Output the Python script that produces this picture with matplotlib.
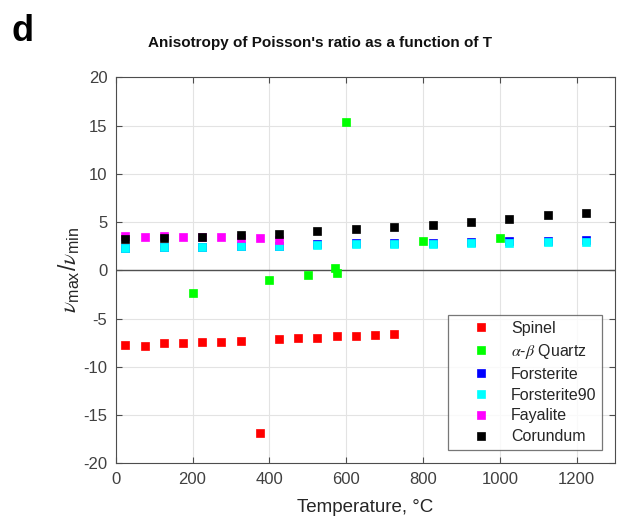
import matplotlib
matplotlib.use("Agg")
import matplotlib.pyplot as plt

plt.rcParams['font.family'] = ['Liberation Sans', 'DejaVu Sans']
plt.rcParams['axes.unicode_minus'] = False
plt.rcParams['mathtext.fontset'] = 'custom'
plt.rcParams['mathtext.rm'] = 'Liberation Sans'
plt.rcParams['mathtext.it'] = 'STIXGeneral:italic'
plt.rcParams['mathtext.bf'] = 'Liberation Sans:bold'

# Temperatures (deg C) and anisotropy ratios per mineral
spinel_T = [25, 75, 125, 175, 225, 275, 325, 375, 425, 475, 525, 575, 625, 675, 725]
spinel_v = [-7.7, -7.85, -7.55, -7.55, -7.45, -7.45, -7.35, -16.9, -7.1, -7.05, -7.0, -6.85, -6.8, -6.7, -6.65]

quartz_T = [200, 400, 500, 570, 575, 600, 800, 1000]
quartz_v = [-2.4, -1.0, -0.5, 0.2, -0.3, 15.4, 3.0, 3.35]

forst_T = [25, 125, 225, 325, 425, 525, 625, 725, 825, 925, 1025, 1125, 1225]
forst_v = [2.27, 2.37, 2.44, 2.47, 2.47, 2.7, 2.78, 2.8, 2.83, 2.95, 3.0, 3.05, 3.1]

forst90_T = [25, 125, 225, 325, 425, 525, 625, 725, 825, 925, 1025, 1125, 1225]
forst90_v = [2.27, 2.37, 2.44, 2.47, 2.47, 2.61, 2.68, 2.68, 2.71, 2.82, 2.82, 2.89, 2.89]

fayal_T = [25, 75, 125, 175, 225, 275, 325, 375, 425]
fayal_v = [3.55, 3.5, 3.55, 3.5, 3.45, 3.4, 3.3, 3.3, 3.1]

corund_T = [25, 125, 225, 325, 425, 525, 625, 725, 825, 925, 1025, 1125, 1225]
corund_v = [3.2, 3.37, 3.5, 3.68, 3.81, 4.05, 4.26, 4.5, 4.71, 5.02, 5.29, 5.7, 5.95]

series = [
    ("Spinel", spinel_T, spinel_v, "#ff0000"),
    (r"$\alpha$-$\beta$ Quartz", quartz_T, quartz_v, "#00ff00"),
    ("Forsterite", forst_T, forst_v, "#0000ff"),
    ("Forsterite90", forst90_T, forst90_v, "#00ffff"),
    ("Fayalite", fayal_T, fayal_v, "#ff00ff"),
    ("Corundum", corund_T, corund_v, "#000000"),
]

fig = plt.figure(figsize=(6.19, 5.18), dpi=100)
ax = fig.add_axes([0.187, 0.1056, 0.8065, 0.7452])

axc = "#4d4d4d"
for name, T, v, c in series:
    ax.plot(T, v, linestyle="none", marker="s", markersize=5.6,
            markerfacecolor=c, markeredgecolor=c, markeredgewidth=0.5,
            label=name, zorder=3)

ax.axhline(0, color="#505050", linewidth=1.0, zorder=2)

ax.set_xlim(0, 1300)
ax.set_ylim(-20, 20)
ax.set_xticks([0, 200, 400, 600, 800, 1000, 1200])
ax.set_yticks(range(-20, 21, 5))
ax.grid(True, color="#e3e3e3", linewidth=0.8)
ax.set_axisbelow(True)
ax.tick_params(direction="in", top=True, right=True, length=4,
               color=axc, labelcolor="#404040", labelsize=12, pad=6)
for s in ax.spines.values():
    s.set_color(axc)
    s.set_linewidth(0.8)

ax.set_xlabel("Temperature, \u00b0C", fontsize=13.5, color="#262626", labelpad=9)
ax.set_ylabel(r"$\nu_{\mathrm{max}}/\nu_{\mathrm{min}}$", fontsize=16.5,
              color="#262626", labelpad=2)

leg = ax.legend(loc="lower right", bbox_to_anchor=(0.974, 0.0345), fontsize=11.5,
                frameon=True, fancybox=False, handlelength=3.4, handletextpad=0.2,
                borderpad=0.35, borderaxespad=0.0, labelspacing=0.37, markerscale=1.0)
leg.get_frame().set_edgecolor("#555555")
leg.get_frame().set_linewidth(0.9)
for t in leg.get_texts():
    t.set_color("#262626")

fig.text(0.517, 0.917, "Anisotropy of Poisson's ratio as a function of T",
         ha="center", va="center", fontsize=11, fontweight="bold", color="#111111")
fig.text(0.018, 0.94, "d", ha="left", va="center", fontsize=26,
         fontweight="bold", color="black")

fig.savefig("out.png", dpi=100)
